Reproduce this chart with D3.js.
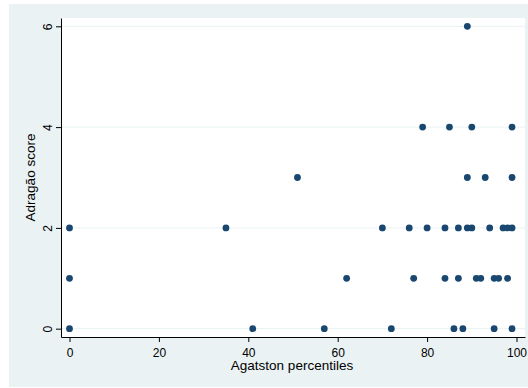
<!DOCTYPE html>
<html>
<head>
<meta charset="utf-8">
<script src="https://cdn.jsdelivr.net/npm/d3@7"></script>
<style>
  body { margin: 0; background: #fff; }
  text { font-family: "Liberation Sans", Arial, sans-serif; fill: #000; }
</style>
</head>
<body>
<script>
// Agatston percentile vs Adragão score, one entry per patient
const agatston = [0, 0, 0, 35, 41, 51, 57, 62, 70, 72, 76, 77, 79, 80, 84, 84, 85, 86, 87, 87, 88, 89, 89, 89,
  90, 90, 91, 92, 93, 94, 95, 95, 96, 97, 98, 98, 99, 99, 99, 99];
const adragao = [0, 1, 2, 2, 0, 3, 0, 1, 2, 0, 2, 1, 4, 2, 2, 1, 4, 0, 2, 1, 0, 6, 3, 2,
  4, 2, 1, 1, 3, 2, 1, 0, 1, 2, 2, 1, 4, 3, 2, 0];
const xTicks = [0, 20, 40, 60, 80, 100];
const yTicks = [0, 2, 4, 6];

const W = 528, H = 388;
const plot = { left: 61, right: 525, top: 18, bottom: 337 };

const svg = d3.select("body").append("svg")
  .attr("width", W)
  .attr("height", H);

// outer graph region
svg.append("rect")
  .attr("x", 9).attr("y", 4)
  .attr("width", W - 9).attr("height", H - 5)
  .attr("fill", "#eaf2f3");

svg.append("rect")
  .attr("x", plot.left).attr("y", plot.top)
  .attr("width", plot.right - plot.left).attr("height", plot.bottom - plot.top)
  .attr("fill", "#fff");

const x = d3.scaleLinear().domain([-1.9, 101.9]).range([plot.left, plot.right]);
const y = d3.scaleLinear().domain([-0.165, 6.165]).range([plot.bottom, plot.top]);

// grid lines
svg.append("g").selectAll("line")
  .data(yTicks)
  .join("line")
  .attr("x1", plot.left).attr("x2", plot.right)
  .attr("y1", d => y(d)).attr("y2", d => y(d))
  .attr("stroke", "#eaf2f3")
  .attr("stroke-width", 1);

// axes
const xAxis = svg.append("g")
  .attr("transform", `translate(0,${plot.bottom})`)
  .call(d3.axisBottom(x).tickValues(xTicks).tickFormat(d3.format("d"))
    .tickSize(5).tickPadding(6).tickSizeOuter(0));
xAxis.select(".domain").attr("stroke", "#000");
xAxis.selectAll("text").style("font-size", "12px");

const yAxis = svg.append("g")
  .attr("transform", `translate(${plot.left},0)`)
  .call(d3.axisLeft(y).tickValues(yTicks).tickFormat(d3.format("d"))
    .tickSize(5).tickPadding(2).tickSizeOuter(0));
yAxis.select(".domain").attr("stroke", "#000");
yAxis.selectAll("text")
  .style("font-size", "12px")
  .attr("text-anchor", "middle")
  .attr("transform", "rotate(-90)")
  .attr("x", 0)
  .attr("y", -9.5)
  .attr("dy", "0");

// axis titles
svg.append("text")
  .attr("x", 292)
  .attr("y", 370)
  .attr("text-anchor", "middle")
  .style("font-size", "13.5px")
  .text("Agatston percentiles");

svg.append("text")
  .attr("transform", `translate(35,${(plot.top + plot.bottom) / 2}) rotate(-90)`)
  .attr("text-anchor", "middle")
  .style("font-size", "13.5px")
  .text("Adragão score");

// points
svg.append("g").selectAll("circle")
  .data(agatston.map((a, i) => [a, adragao[i]]))
  .join("circle")
  .attr("cx", d => x(d[0]))
  .attr("cy", d => y(d[1]))
  .attr("r", 3.4)
  .attr("fill", "#1a476f");
</script>
</body>
</html>
